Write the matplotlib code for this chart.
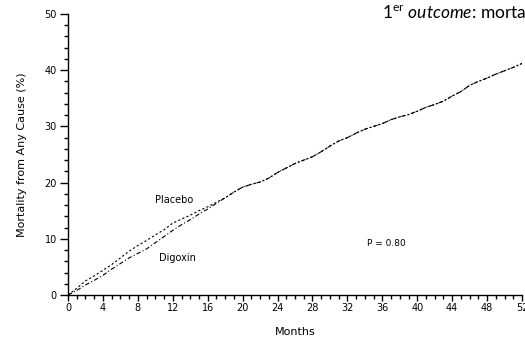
import matplotlib
matplotlib.use("Agg")
import matplotlib.pyplot as plt
import numpy as np

# months and cumulative mortality (%)
months = list(range(0, 53))
placebo = [0, 1.2, 2.5, 3.4, 4.4, 5.4, 6.6, 7.8, 8.8, 9.7, 10.7, 11.6, 12.8, 13.5,
           14.2, 15.0, 15.7, 16.5, 17.3, 18.3, 19.2, 19.7, 20.1, 20.8, 21.8, 22.6,
           23.4, 24.0, 24.6, 25.5, 26.5, 27.4, 28.0, 28.8, 29.5, 30.0, 30.5, 31.2,
           31.7, 32.1, 32.7, 33.4, 33.9, 34.5, 35.4, 36.2, 37.3, 38.0, 38.6, 39.3,
           39.9, 40.5, 41.2]
digoxin = [0, 0.8, 1.8, 2.6, 3.5, 4.6, 5.6, 6.6, 7.4, 8.2, 9.3, 10.4, 11.5, 12.5,
           13.4, 14.4, 15.3, 16.3, 17.3, 18.3, 19.2, 19.7, 20.1, 20.8, 21.8, 22.6,
           23.4, 24.0, 24.6, 25.5, 26.5, 27.4, 28.0, 28.8, 29.5, 30.0, 30.5, 31.2,
           31.7, 32.1, 32.7, 33.4, 33.9, 34.5, 35.4, 36.2, 37.3, 38.0, 38.6, 39.3,
           39.9, 40.5, 41.2]

xticks = np.arange(0, 53, 4)
yticks = np.arange(0, 51, 10)

plt.rcParams['mathtext.fontset'] = 'custom'
plt.rcParams['mathtext.rm'] = 'Lato'
plt.rcParams['mathtext.it'] = 'Lato:italic'

fig = plt.figure(figsize=(5.25, 3.39), dpi=100)
ax = fig.add_axes([68 / 525, 1 - 295 / 339, 454 / 525, 281 / 339])

ax.plot(months, placebo, color='black', lw=0.8, ls=(0, (2, 2)))
ax.plot(months, digoxin, color='black', lw=0.8, ls=(0, (4, 2, 1, 2)))

ax.set_xlim(0, 52)
ax.set_ylim(0, 50)
ax.set_xticks(xticks)
ax.set_yticks(yticks)
ax.set_xticks(np.arange(0, 53, 1), minor=True)
ax.set_yticks(np.arange(0, 51, 2), minor=True)

for s in ['top', 'right']:
    ax.spines[s].set_visible(False)
for s in ['left', 'bottom']:
    ax.spines[s].set_linewidth(1.0)

ax.tick_params(axis='x', which='major', direction='out', length=4, width=1,
               labelsize=7, pad=2)
ax.tick_params(axis='x', which='minor', direction='out', length=3, width=1)
ax.tick_params(axis='y', which='major', direction='out', length=6, width=1,
               labelsize=7, pad=2)
ax.tick_params(axis='y', which='minor', direction='out', length=3, width=1)

ax.set_ylabel("Mortality from Any Cause (%)", fontsize=8)
ax.yaxis.set_label_coords(-0.09, 0.5)
ax.set_xlabel("Months", fontsize=8)
ax.xaxis.set_label_coords(0.5, -0.115)

ax.text(12.1, 16.9, "Placebo", fontsize=7, ha='center', va='center')
ax.text(12.5, 6.6, "Digoxin", fontsize=7, ha='center', va='center')
ax.text(36.5, 9.1, "P = 0.80", fontsize=6.5, ha='center', va='center')

fig.text(382 / 525, 1 - 13 / 339, r"1$^{\mathrm{er}}$ $\mathit{outcome}$: morta",
         fontsize=12.5, family='Lato', ha='left', va='center')

fig.savefig("out.png", dpi=100)
